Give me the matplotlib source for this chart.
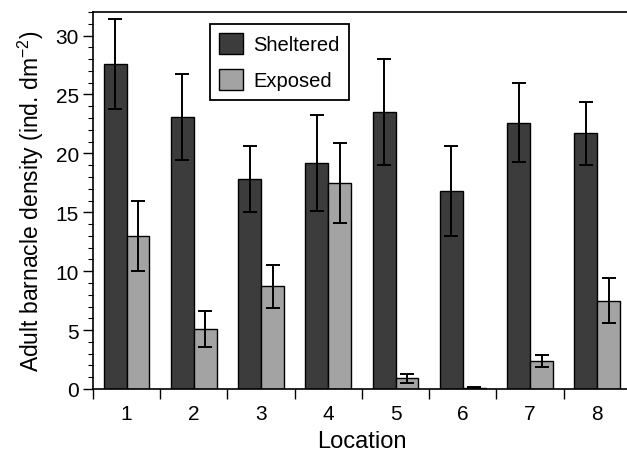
import matplotlib
matplotlib.use('Agg')
import matplotlib.pyplot as plt
import numpy as np

plt.rcParams['font.family'] = ['Liberation Sans', 'DejaVu Sans']
plt.rcParams['mathtext.fontset'] = 'custom'
plt.rcParams['mathtext.rm'] = 'Liberation Sans'

# ── data ───────────────────────────────────────────────
locations = ['1', '2', '3', '4', '5', '6', '7', '8']
sheltered = [27.6, 23.1, 17.8, 19.2, 23.5, 16.8, 22.6, 21.7]
sheltered_err = [3.8, 3.65, 2.8, 4.05, 4.5, 3.8, 3.35, 2.65]
exposed = [13.0, 5.1, 8.7, 17.5, 0.9, 0.1, 2.4, 7.5]
exposed_err = [3.0, 1.5, 1.8, 3.4, 0.4, 0.05, 0.5, 1.9]

fig = plt.figure(figsize=(6.27, 4.52), dpi=100)
ax = fig.add_axes([0.1483, 0.1372, 0.858, 0.834])

x = np.arange(1, len(locations) + 1)
w = 0.34
err_kw = dict(ecolor='black', elinewidth=1.4, capsize=4.8, capthick=1.4)
ax.bar(x - w / 2, sheltered, w, yerr=sheltered_err, color='#3c3c3c',
       edgecolor='black', linewidth=1.0, label='Sheltered', error_kw=err_kw)
ax.bar(x + w / 2, exposed, w, yerr=exposed_err, color='#a3a3a3',
       edgecolor='black', linewidth=1.0, label='Exposed', error_kw=err_kw)

ax.set_xlim(0.5, 8.5)
ax.set_ylim(0, 32)

# y ticks
ax.set_yticks(np.arange(0, 31, 5))
ax.set_yticks(np.arange(0, 33, 1), minor=True)
ax.tick_params(axis='y', which='major', direction='out', length=7, width=1.0,
               labelsize=15, pad=3)
ax.tick_params(axis='y', which='minor', direction='out', length=3.5, width=0.8)

# x ticks: labels at centres, marks at boundaries
ax.set_xticks(x)
ax.set_xticklabels(locations)
ax.set_xticks(np.arange(0.5, 9, 1), minor=True)
ax.tick_params(axis='x', which='major', length=0, labelsize=15, pad=11)
ax.tick_params(axis='x', which='minor', direction='out', length=7, width=1.0)

for s in ax.spines.values():
    s.set_linewidth(1.2)

ax.set_xlabel('Location', fontsize=17, labelpad=5)
ax.set_ylabel('Adult barnacle density (ind. dm$^{\\mathregular{-2}}$)', fontsize=16.5, labelpad=7)

leg = ax.legend(loc='upper left', bbox_to_anchor=(0.2175, 0.968), borderaxespad=0,
                fancybox=False, framealpha=1, edgecolor='black', fontsize=14.5,
                handlelength=1.2, handleheight=1.2, borderpad=0.45, labelspacing=0.75,
                handletextpad=0.5)
leg.get_frame().set_linewidth(1.3)

plt.savefig('out.png', dpi=100)
